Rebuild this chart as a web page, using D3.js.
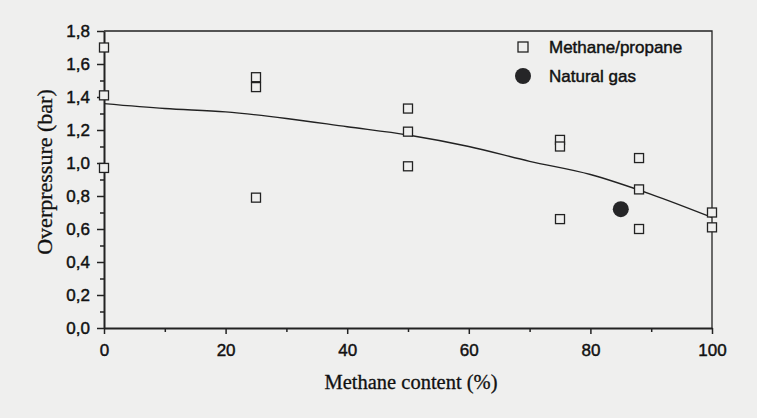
<!DOCTYPE html>
<html lang="en">
<head>
	<meta charset="UTF-8">
	<title>Overpressure vs methane content</title>
	<script src="https://cdn.jsdelivr.net/npm/d3@7"></script>
	<style>
		body {
			margin: 0;
			background: #efefee;
		}

		svg text {
			font-family: "Liberation Sans", Arial, sans-serif;
			fill: #111;
			stroke: #111;
			stroke-width: 0.45px;
		}

		.title {
			font-family: "Liberation Serif", "Times New Roman", serif !important;
			stroke-width: 0.3px;
		}
	</style>
</head>
<body>
<div id="viz"></div>

<script type="text/javascript">
	// methane/propane tests
	let mpX = [0, 0, 0, 25, 25, 25, 50, 50, 50, 75, 75, 75, 88, 88, 88, 100, 100];
	let mpY = [1.70, 1.41, 0.97, 1.52, 1.46, 0.79, 1.33, 1.19, 0.98, 1.14, 1.10, 0.66, 1.03, 0.84, 0.60, 0.70, 0.61];

	// natural gas test
	let ngX = [85];
	let ngY = [0.72];

	// fitted curve
	let fitX = [0, 10, 20, 30, 40, 50, 60, 70, 80, 90, 100];
	let fitY = [1.36, 1.33, 1.31, 1.27, 1.22, 1.17, 1.10, 1.01, 0.93, 0.81, 0.67];

	let xTicks = [0, 20, 40, 60, 80, 100];
	let yTicks = [0, 0.2, 0.4, 0.6, 0.8, 1.0, 1.2, 1.4, 1.6, 1.8];

	let W = 757, H = 418;
	let margin = {top: 31, left: 104, bottom: 90, right: 45};
	let width = W - margin.left - margin.right;
	let height = H - margin.top - margin.bottom;
	let ink = '#222';

	let svg = d3.select('#viz')
		.append('svg')
		.attr('width', W)
		.attr('height', H);

	let g = svg.append('g')
		.attr('transform', 'translate(' + margin.left + ',' + margin.top + ')');

	let x = d3.scaleLinear().domain([0, 100]).range([0, width]);
	let y = d3.scaleLinear().domain([0, 1.8]).range([height, 0]);

	let fmt = (d) => d3.format('.1f')(d).replace('.', ',');

	// minor ticks
	g.append('g')
		.attr('transform', 'translate(0,' + height + ')')
		.call(d3.axisBottom(x).tickValues(d3.range(10, 100, 20)).tickSize(4).tickFormat(''))
		.call(a => a.select('.domain').remove());
	g.append('g')
		.call(d3.axisLeft(y).tickValues(d3.range(0.1, 1.8, 0.2)).tickSize(4).tickFormat(''))
		.call(a => a.select('.domain').remove());

	let gx = g.append('g')
		.attr('transform', 'translate(0,' + height + ')')
		.call(d3.axisBottom(x).tickValues(xTicks).tickSize(6).tickSizeOuter(0).tickPadding(10));
	gx.selectAll('text').style('font-size', '17px');

	let gy = g.append('g')
		.call(d3.axisLeft(y).tickValues(yTicks).tickFormat(fmt).tickSize(7).tickSizeOuter(0).tickPadding(7));
	gy.selectAll('text').style('font-size', '17px');

	g.selectAll('.domain, .tick line')
		.attr('stroke', ink);
	g.selectAll('.domain').attr('stroke-width', 2);
	g.selectAll('.tick line').attr('stroke-width', 1.5);

	// frame top and right
	g.append('path')
		.attr('d', 'M0,0H' + width + 'V' + height)
		.attr('fill', 'none')
		.attr('stroke', ink)
		.attr('stroke-width', 1.3);

	let line = d3.line()
		.x((d, i) => x(fitX[i]))
		.y((d) => y(d))
		.curve(d3.curveMonotoneX);

	g.append('path')
		.datum(fitY)
		.attr('d', line)
		.attr('fill', 'none')
		.attr('stroke', ink)
		.attr('stroke-width', 1.4);

	let s = 9;
	g.selectAll('.mp')
		.data(mpY)
		.enter().append('rect')
		.attr('class', 'mp')
		.attr('x', (d, i) => x(mpX[i]) - s / 2)
		.attr('y', (d) => y(d) - s / 2)
		.attr('width', s)
		.attr('height', s)
		.attr('fill', '#efefee')
		.attr('stroke', ink)
		.attr('stroke-width', 1.3);

	g.selectAll('.ng')
		.data(ngY)
		.enter().append('circle')
		.attr('class', 'ng')
		.attr('cx', (d, i) => x(ngX[i]))
		.attr('cy', (d) => y(d))
		.attr('r', 8)
		.attr('fill', '#252527');

	// legend
	let lg = svg.append('g').attr('transform', 'translate(523,0)');
	lg.append('rect')
		.attr('x', -5).attr('y', 42).attr('width', 10).attr('height', 10)
		.attr('fill', 'none').attr('stroke', ink).attr('stroke-width', 1.3);
	lg.append('circle')
		.attr('cx', 0).attr('cy', 76).attr('r', 8).attr('fill', '#252527');
	lg.append('text')
		.attr('x', 26).attr('y', 53).style('font-size', '17px').text('Methane/propane');
	lg.append('text')
		.attr('x', 26).attr('y', 82).style('font-size', '17px').text('Natural gas');

	// axis titles
	svg.append('text')
		.attr('class', 'title')
		.attr('text-anchor', 'middle')
		.style('font-size', '20.5px')
		.attr('x', 411).attr('y', 389)
		.text('Methane content (%)');

	svg.append('text')
		.attr('class', 'title')
		.attr('text-anchor', 'middle')
		.style('font-size', '22px')
		.attr('transform', 'translate(52,172) rotate(-90)')
		.text('Overpressure (bar)');
</script>
</body>
</html>
